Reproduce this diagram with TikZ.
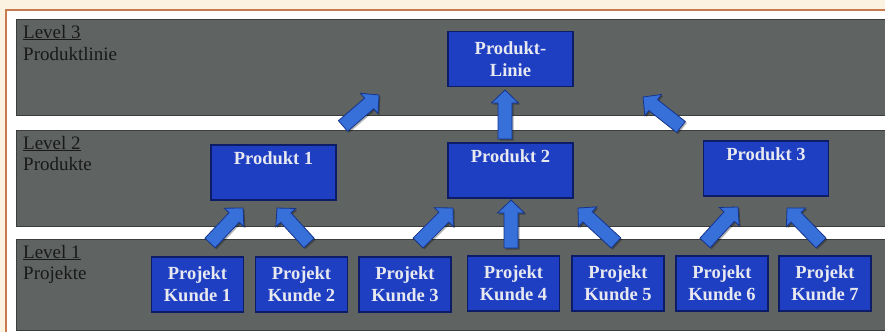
\documentclass[tikz,border=0pt]{standalone}
\usepackage{fontspec}
\setmainfont{Liberation Serif}
\usetikzlibrary{calc}

\definecolor{paper}{HTML}{FBF2E2}
\definecolor{framecol}{HTML}{C97A4E}
\definecolor{bandgray}{HTML}{5F6361}
\definecolor{bandedge}{HTML}{3A3D3C}
\definecolor{boxblue}{HTML}{1E3FC2}
\definecolor{boxedge}{HTML}{0C1C66}
\definecolor{arrowblue}{HTML}{3670D8}
\definecolor{arrowedge}{HTML}{17348C}
\definecolor{boxtext}{HTML}{E8E8F0}

% block arrow from #1 (tail centre) to #2 (tip)
\newcommand\arrShaft{7pt}
\newcommand\arrWing{13.5pt}
\newcommand\arrHead{13pt}
\newcommand\blockarrow[2]{%
  \path ($(#2)!\arrHead!(#1)$) coordinate (arrbase);
  \draw[arrowshape]
    ($(#1)!\arrShaft!90:(#2)$) -- ($(arrbase)!\arrShaft!90:(#2)$)
    -- ($(arrbase)!\arrWing!90:(#2)$) -- (#2)
    -- ($(arrbase)!\arrWing!-90:(#2)$) -- ($(arrbase)!\arrShaft!-90:(#2)$)
    -- ($(#1)!\arrShaft!-90:(#2)$) -- cycle;}

\tikzset{
  box/.style={draw=boxedge, line width=1.2pt, fill=boxblue, text=boxtext,
    font=\bfseries\fontsize{18.5}{22}\selectfont, align=center, inner sep=0pt},
  prodbox/.style={box, minimum width=125pt, minimum height=55pt},
  kundebox/.style={box, minimum width=92pt, minimum height=55pt},
  band/.style={fill=bandgray, draw=bandedge, line width=0.8pt},
  lvl/.style={anchor=base west, inner sep=0pt, text=black!90,
    font=\fontsize{19}{22}\selectfont},
  arrowshape/.style={fill=arrowblue, draw=arrowedge, line width=0.8pt,
    line join=miter,
    preaction={fill=black, opacity=0.3,
      transform canvas={shift={(1.5pt,-1.5pt)}}}}
}

\begin{document}
\begin{tikzpicture}[x=1pt, y=-1pt]
  \useasboundingbox (0,0) rectangle (885,332);

  % paper and frame
  \fill[paper] (0,0) rectangle (885,332);
  \fill[white] (6,10) rectangle (885,332);
  \draw[framecol, line width=1.5pt] (6,332) -- (6,10) -- (885,10);

  % level bands
  \draw[band] (16,19) rectangle (886,115);
  \draw[band] (16,130) rectangle (886,226);
  \draw[band] (16,239) rectangle (886,330);

  % band captions
  \node[lvl] (l3a) at (23,38) {\underline{Level 3}};
  \node[lvl] (l3b) at (23,60) {Produktlinie};
  \node[lvl] (l2a) at (23,149) {\underline{Level 2}};
  \node[lvl] (l2b) at (23,170) {Produkte};
  \node[lvl] (l1a) at (23,258) {\underline{Level 1}};
  \node[lvl] (l1b) at (23,279) {Projekte};

  % boxes
  \node[prodbox] (linie) at (510.5,59) {Produkt-\\Linie};
  \node[prodbox] (prod1) at (273.5,172.5) {Produkt 1\\\strut};
  \node[prodbox] (prod2) at (510.5,170.5) {Produkt 2\\\strut};
  \node[prodbox] (prod3) at (766,168.5) {Produkt 3\\\strut};

  \node[kundebox] (k1) at (197.5,284.5) {Projekt\\Kunde 1};
  \node[kundebox] (k2) at (301.5,284.5) {Projekt\\Kunde 2};
  \node[kundebox] (k3) at (405,284.5) {Projekt\\Kunde 3};
  \node[kundebox] (k4) at (513.5,283.5) {Projekt\\Kunde 4};
  \node[kundebox] (k5) at (618,283.5) {Projekt\\Kunde 5};
  \node[kundebox] (k6) at (722,283.5) {Projekt\\Kunde 6};
  \node[kundebox] (k7) at (825,283.5) {Projekt\\Kunde 7};

  % arrow ends
  \coordinate (a1s) at (343,126);  \coordinate (a1t) at (379,95);
  \coordinate (a2s) at (505,139);  \coordinate (a2t) at (505,90);
  \coordinate (a3s) at (681,127);  \coordinate (a3t) at (643,97);

  \coordinate (b1s) at (210,243);  \coordinate (b1t) at (243,208);
  \coordinate (b2s) at (309,243);  \coordinate (b2t) at (277,208);
  \coordinate (b3s) at (418,243);  \coordinate (b3t) at (453,208);
  \coordinate (b4s) at (511,248);  \coordinate (b4t) at (511,200);
  \coordinate (b5s) at (616,243);  \coordinate (b5t) at (578,208);
  \coordinate (b6s) at (705,243);  \coordinate (b6t) at (738,207);
  \coordinate (b7s) at (821,243);  \coordinate (b7t) at (787,208);

  % arrows
  \blockarrow{a1s}{a1t}
  \blockarrow{a2s}{a2t}
  \blockarrow{a3s}{a3t}
  \blockarrow{b1s}{b1t}
  \blockarrow{b2s}{b2t}
  \blockarrow{b3s}{b3t}
  \blockarrow{b4s}{b4t}
  \blockarrow{b5s}{b5t}
  \blockarrow{b6s}{b6t}
  \blockarrow{b7s}{b7t}
\end{tikzpicture}
\end{document}
